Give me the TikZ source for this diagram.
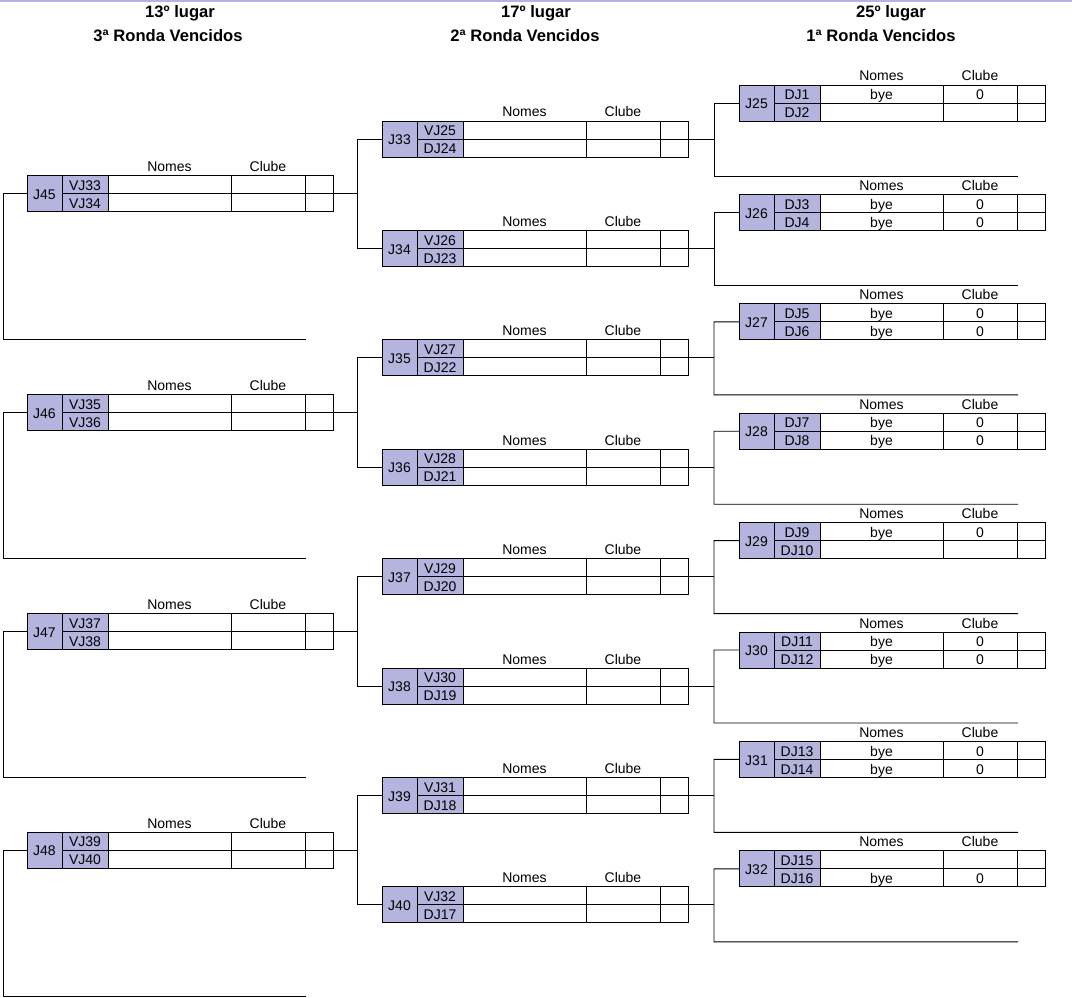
\documentclass[tikz,border=0pt]{standalone}
\usepackage{fontspec}
\setmainfont{Liberation Sans}
\definecolor{lav}{RGB}{180,180,222}
\tikzset{
  cellbase/.style={draw=black, line width=0.9pt, inner sep=0pt, outer sep=0pt, minimum height=18pt,
    text height=11.5pt, text depth=0pt, font=\fontsize{14}{15}\selectfont},
  jcell/.style={cellbase, fill=lav, minimum width=35pt, minimum height=36pt},
  dcell/.style={cellbase, fill=lav, minimum width=46pt},
  ncell/.style={cellbase, minimum width=123pt},
  ccell/.style={cellbase, minimum width=74pt},
  scell/.style={cellbase, minimum width=28pt},
  hdr/.style={inner sep=0pt, anchor=base, font=\fontsize{14}{15}\selectfont},
  ttl/.style={inner sep=0pt, anchor=base, font=\bfseries\fontsize{16.6}{18}\selectfont},
  wire/.style={line width=0.9pt, black},
  thickwire/.style={line width=1.8pt, black},
}
\newcommand\gamebox[9]{%
  \node[jcell,anchor=west] (#1) at (#2,#3) {#1};
  \node[dcell,anchor=south west] (#1a) at ({#2+35},#3) {#4};
  \node[dcell,anchor=north west] (#1b) at ({#2+35},#3) {#5};
  \node[ncell,anchor=south west] (#1n1) at ({#2+81},#3) {#6};
  \node[ncell,anchor=north west] (#1n2) at ({#2+81},#3) {#8};
  \node[ccell,anchor=south west] (#1c1) at ({#2+204},#3) {#7};
  \node[ccell,anchor=north west] (#1c2) at ({#2+204},#3) {#9};
  \node[scell,anchor=south west] (#1s1) at ({#2+278},#3) {};
  \node[scell,anchor=north west] (#1s2) at ({#2+278},#3) {};
  \node[hdr] (#1hn) at ({#2+142.5},{#3-22}) {Nomes};
  \node[hdr] (#1hc) at ({#2+241},{#3-22}) {Clube};
}
\begin{document}
\begin{tikzpicture}[x=1pt,y=-1pt]
\useasboundingbox (0,0) rectangle (1072,998);
\draw[lav, line width=1.5pt] (0,1) -- (1072,1);
% titles
\node[ttl] (t1a) at (180,18) {13º lugar};
\node[ttl] (t1b) at (168,42) {3ª Ronda Vencidos};
\node[ttl] (t2a) at (536,18) {17º lugar};
\node[ttl] (t2b) at (525,42) {2ª Ronda Vencidos};
\node[ttl] (t3a) at (891,18) {25º lugar};
\node[ttl] (t3b) at (881,42) {1ª Ronda Vencidos};
% right column
\gamebox{J25}{739}{103}{DJ1}{DJ2}{bye}{0}{}{}
\gamebox{J26}{739}{212.4}{DJ3}{DJ4}{bye}{0}{bye}{0}
\gamebox{J27}{739}{321.8}{DJ5}{DJ6}{bye}{0}{bye}{0}
\gamebox{J28}{739}{431.2}{DJ7}{DJ8}{bye}{0}{bye}{0}
\gamebox{J29}{739}{540.6}{DJ9}{DJ10}{bye}{0}{}{}
\gamebox{J30}{739}{650}{DJ11}{DJ12}{bye}{0}{bye}{0}
\gamebox{J31}{739}{759.4}{DJ13}{DJ14}{bye}{0}{bye}{0}
\gamebox{J32}{739}{868.8}{DJ15}{DJ16}{}{}{bye}{0}
% middle column
\gamebox{J33}{382}{139}{VJ25}{DJ24}{}{}{}{}
\gamebox{J34}{382}{248.4}{VJ26}{DJ23}{}{}{}{}
\gamebox{J35}{382}{357.8}{VJ27}{DJ22}{}{}{}{}
\gamebox{J36}{382}{467.2}{VJ28}{DJ21}{}{}{}{}
\gamebox{J37}{382}{576.6}{VJ29}{DJ20}{}{}{}{}
\gamebox{J38}{382}{686}{VJ30}{DJ19}{}{}{}{}
\gamebox{J39}{382}{795.4}{VJ31}{DJ18}{}{}{}{}
\gamebox{J40}{382}{904.8}{VJ32}{DJ17}{}{}{}{}
% left column
\gamebox{J45}{27}{193.7}{VJ33}{VJ34}{}{}{}{}
\gamebox{J46}{27}{412.5}{VJ35}{VJ36}{}{}{}{}
\gamebox{J47}{27}{631.3}{VJ37}{VJ38}{}{}{}{}
\gamebox{J48}{27}{850.1}{VJ39}{VJ40}{}{}{}{}
% right column brackets
\foreach \n in {25,...,32} {
  \pgfmathsetmacro\yy{103+109.4*(\n-25)}
  \coordinate (K\n) at (714,\yy);
  \coordinate (E\n) at (1018,\yy+73);
  \draw[wire] (J\n.west) -- (K\n) |- (E\n);
}
% middle column outputs and brackets
\foreach \i in {0,...,7} {
  \pgfmathtruncatemacro\m{33+\i}
  \pgfmathtruncatemacro\r{25+\i}
  \draw[wire] (J\m s1.south east) -- (J\m s1.south east -| K\r);
}
\foreach \a/\b in {33/34,35/36,37/38,39/40} {
  \draw[wire] (J\a.west) -- ++(-25,0) |- (J\b.west);
}
% left column outputs and brackets
\foreach \n in {45,...,48} {
  \pgfmathsetmacro\yy{193.7+218.8*(\n-45)}
  \coordinate (P\n) at (357,\yy);
  \coordinate (L\n) at (306,\yy+146);
  \draw[wire] (J\n s1.south east) -- (P\n);
  \draw[wire] (J\n.west) -- ++(-24,0) |- (L\n);
}
% thicker line through J34
\draw[thickwire] (J34.west) -- ++(-25,0);
\draw[thickwire] (J34a.south west) -- (J34s1.south east) -- (K26 |- J34s1.south east);
\end{tikzpicture}
\end{document}
